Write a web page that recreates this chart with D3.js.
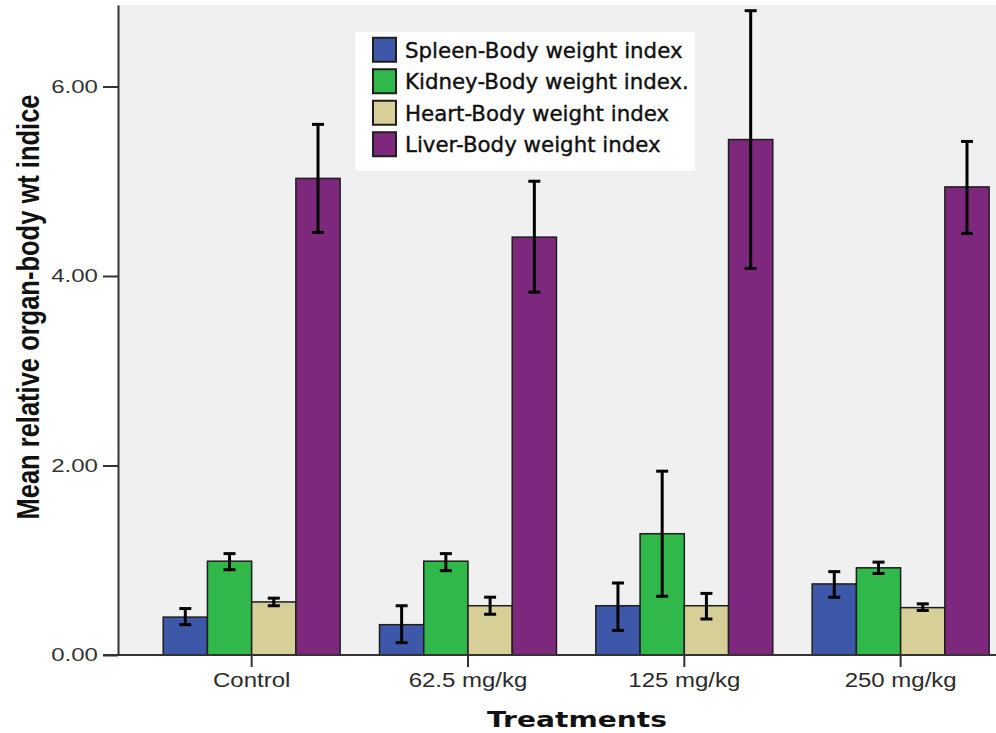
<!DOCTYPE html>
<html>
<head>
<meta charset="utf-8">
<script src="https://cdn.jsdelivr.net/npm/d3@7"></script>
<style>
  body { margin: 0; background: #fff; }
  svg { display: block; }
</style>
</head>
<body>
<svg id="chart" width="996" height="733"></svg>
<script>
// data
const categories = ["Control", "62.5 mg/kg", "125 mg/kg", "250 mg/kg"]
const seriesNames = ["Spleen-Body weight index", "Kidney-Body weight index.", "Heart-Body weight index", "Liver-Body weight index"]
const spleenMean = [0.40, 0.32, 0.52, 0.75]
const spleenLow = [0.32, 0.13, 0.26, 0.61]
const spleenHigh = [0.49, 0.52, 0.76, 0.88]
const kidneyMean = [0.99, 0.99, 1.28, 0.92]
const kidneyLow = [0.90, 0.89, 0.62, 0.86]
const kidneyHigh = [1.07, 1.07, 1.94, 0.98]
const heartMean = [0.56, 0.52, 0.52, 0.50]
const heartLow = [0.52, 0.43, 0.38, 0.47]
const heartHigh = [0.60, 0.61, 0.65, 0.54]
const liverMean = [5.03, 4.41, 5.44, 4.94]
const liverLow = [4.46, 3.83, 4.08, 4.45]
const liverHigh = [5.60, 5.00, 6.80, 5.42]
const yTicks = [0, 2, 4, 6]

const colors = ["#3d58a9", "#31b84a", "#d6cf97", "#7d287c"]

const means = [spleenMean, kidneyMean, heartMean, liverMean]
const lows = [spleenLow, kidneyLow, heartLow, liverLow]
const highs = [spleenHigh, kidneyHigh, heartHigh, liverHigh]

let rows = []
categories.forEach(function (c, i) {
    seriesNames.forEach(function (s, j) {
        rows.push({ cat: c, key: s, idx: j, value: means[j][i], lo: lows[j][i], hi: highs[j][i] })
    })
})

const svg = d3.select("#chart")
const plot = { left: 118, top: 5, bottom: 655, right: 996 }

// the picture is stretched sideways, so texts get widened a bit
function stretch(sel, k) {
    sel.each(function () {
        let w = this.getComputedTextLength()
        d3.select(this).attr("textLength", w * k).attr("lengthAdjust", "spacingAndGlyphs")
    })
}

// scales
let yScale = d3.scaleLinear().domain([0, 6.86]).range([plot.bottom, plot.top])
let xScale_0 = d3.scaleBand().domain(categories).range([143.5, 1008.8])
let xScale_1 = d3.scaleBand().domain(seriesNames).range([0, xScale_0.bandwidth()])
    .paddingInner(0).paddingOuter(0.445)
let zScale = d3.scaleOrdinal().domain(seriesNames).range(colors)

// plot background
svg.append("rect")
    .attr("x", plot.left).attr("y", plot.top)
    .attr("width", plot.right - plot.left).attr("height", plot.bottom - plot.top)
    .attr("fill", "#f0f0f0")

// bars
let groups = svg.append("g").selectAll("g")
    .data(categories)
    .enter()
    .append("g")
    .attr("transform", function (d) { return "translate(" + xScale_0(d) + ",0)" })

groups.selectAll("rect")
    .data(function (c) { return rows.filter(function (r) { return r.cat == c }) })
    .enter()
    .append("rect")
    .attr("x", function (d) { return xScale_1(d.key) })
    .attr("y", function (d) { return yScale(d.value) })
    .attr("width", xScale_1.bandwidth())
    .attr("height", function (d) { return yScale(0) - yScale(d.value) })
    .attr("fill", function (d) { return zScale(d.key) })
    .attr("stroke", "#1e1e1e")
    .attr("stroke-width", 1.5)

// error bars
let err = groups.selectAll("g.err")
    .data(function (c) { return rows.filter(function (r) { return r.cat == c }) })
    .enter()
    .append("g")
    .attr("class", "err")
    .attr("transform", function (d) { return "translate(" + (xScale_1(d.key) + xScale_1.bandwidth() / 2) + ",0)" })
err.append("line")
    .attr("y1", function (d) { return yScale(d.lo) })
    .attr("y2", function (d) { return yScale(d.hi) })
    .attr("stroke", "#000").attr("stroke-width", 3)
err.selectAll("line.cap")
    .data(function (d) { return [d.lo, d.hi] })
    .enter()
    .append("line")
    .attr("class", "cap")
    .attr("x1", -6).attr("x2", 6)
    .attr("y1", function (v) { return yScale(v) })
    .attr("y2", function (v) { return yScale(v) })
    .attr("stroke", "#000").attr("stroke-width", 3)

// x axis baseline and ticks
svg.append("line")
    .attr("x1", 103).attr("x2", plot.right)
    .attr("y1", plot.bottom).attr("y2", plot.bottom)
    .attr("stroke", "#333").attr("stroke-width", 2)

let xAxis = svg.append("g")
    .attr("transform", "translate(0," + plot.bottom + ")")
    .call(d3.axisBottom(xScale_0).tickSize(12).tickSizeOuter(0).tickPadding(8))
xAxis.select(".domain").remove()
xAxis.selectAll(".tick line").attr("stroke", "#333").attr("stroke-width", 2)
xAxis.selectAll(".tick text")
    .attr("y", 32).attr("dy", 0)
    .attr("font-family", "Liberation Sans, Arial, sans-serif")
    .attr("font-size", "19.5px")
    .attr("fill", "#2b2b2b")
    .call(stretch, 1.23)

// y axis
let yAxis = svg.append("g")
    .attr("transform", "translate(" + plot.left + ",0)")
    .call(d3.axisLeft(yScale).tickValues(yTicks).tickFormat(d3.format(".2f")).tickSize(15).tickSizeOuter(0).tickPadding(5))
yAxis.select(".domain").attr("stroke", "#333").attr("stroke-width", 2)
yAxis.selectAll(".tick line").attr("stroke", "#333").attr("stroke-width", 2)
yAxis.selectAll(".tick text")
    .attr("font-family", "Liberation Sans, Arial, sans-serif")
    .attr("font-size", "18.5px")
    .attr("fill", "#333")
    .call(stretch, 1.3)

// axis titles
svg.append("text")
    .attr("transform", "translate(39,307) rotate(-90)")
    .attr("text-anchor", "middle")
    .attr("font-family", "Liberation Sans, Arial, sans-serif")
    .attr("font-weight", "bold")
    .attr("font-size", "31px")
    .attr("fill", "#111")
    .attr("textLength", 425)
    .attr("lengthAdjust", "spacingAndGlyphs")
    .text("Mean relative organ-body wt indice")

svg.append("text")
    .attr("x", 577).attr("y", 727)
    .attr("text-anchor", "middle")
    .attr("font-family", "DejaVu Sans, Verdana, sans-serif")
    .attr("font-weight", "bold")
    .attr("font-size", "21.5px")
    .attr("fill", "#111")
    .attr("textLength", 180)
    .attr("lengthAdjust", "spacingAndGlyphs")
    .text("Treatments")

// legend
let legend = svg.append("g")
legend.append("rect")
    .attr("x", 355).attr("y", 32).attr("width", 340).attr("height", 139)
    .attr("fill", "#fff")
let legendScale = d3.scaleBand().domain(seriesNames).range([34, 160])
let item = legend.selectAll("g.item")
    .data(seriesNames)
    .enter()
    .append("g")
    .attr("class", "item")
    .attr("transform", function (d) { return "translate(0," + (legendScale(d) + legendScale.bandwidth() / 2) + ")" })
item.append("rect")
    .attr("x", 373).attr("y", -12).attr("width", 23).attr("height", 24)
    .attr("fill", function (d) { return zScale(d) })
    .attr("stroke", "#1e1e1e").attr("stroke-width", 2)
item.append("text")
    .attr("x", 405).attr("y", 8)
    .attr("font-family", "DejaVu Sans, Verdana, sans-serif")
    .attr("font-size", "22px")
    .attr("fill", "#111")
    .attr("stroke", "#111")
    .attr("stroke-width", 0.4)
    .text(function (d) { return d })
    .call(stretch, 0.97)
</script>
</body>
</html>
